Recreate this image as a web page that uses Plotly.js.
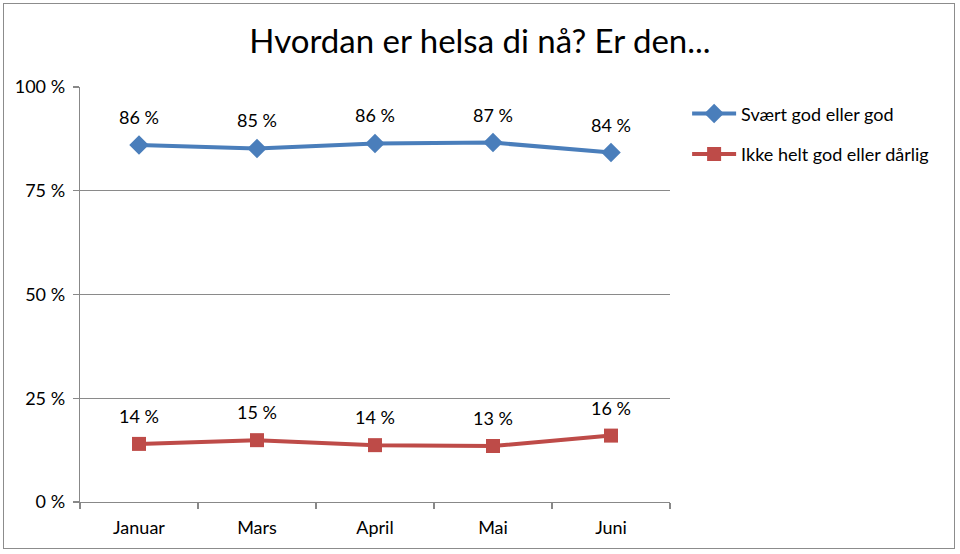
<!DOCTYPE html>
<html>
<head>
<meta charset="utf-8">
<script src="https://cdn.plot.ly/plotly-3.0.1.min.js"></script>
<style>
html,body{margin:0;padding:0;background:#fff;}
#wrap{position:absolute;left:0;top:0;width:960px;height:554px;}
#frame{position:absolute;left:3px;top:3px;width:952px;height:546px;border:1.5px solid #8c8c8c;box-sizing:border-box;pointer-events:none;}
#chart{width:960px;height:554px;}
</style>
</head>
<body>
<div id="wrap"><div id="chart"></div><div id="frame"></div></div>
<script>
const categories = ["Januar", "Mars", "April", "Mai", "Juni"];
const seriesNames = ["Svært god eller god", "Ikke helt god eller dårlig"];
const godValues = [86.0, 85.2, 86.4, 86.6, 84.2];
const darligValues = [14.0, 14.9, 13.7, 13.5, 16.0];
const godLabels = ["86 %", "85 %", "86 %", "87 %", "84 %"];
const darligLabels = ["14 %", "15 %", "14 %", "13 %", "16 %"];
const yTickVals = [0, 25, 50, 75, 100];
const yTickText = ["0 %", "25 %", "50 %", "75 %", "100 %"];

const FONT = "Lato, 'Open Sans', sans-serif";
const blue = "#4a7ebb", red = "#be4b48";

const traces = [
  {x: categories, y: godValues, name: seriesNames[0], type: "scatter", mode: "lines+markers",
   line: {color: blue, width: 4}, marker: {symbol: "diamond", size: 15, color: blue},
   legendgroup: "a"},
  {x: categories, y: darligValues, name: seriesNames[1], type: "scatter", mode: "lines+markers",
   line: {color: red, width: 4}, marker: {symbol: "square", size: 14, color: red},
   legendgroup: "b"}
];

const annotations = [];
categories.forEach((c, i) => {
  annotations.push({x: c, y: godValues[i], text: godLabels[i], showarrow: false, yshift: 28,
    font: {family: FONT, size: 18, color: "#000"}});
  annotations.push({x: c, y: darligValues[i], text: darligLabels[i], showarrow: false, yshift: 28,
    font: {family: FONT, size: 18, color: "#000"}});
});

const layout = {
  width: 960, height: 554,
  margin: {l: 80, r: 290, t: 87, b: 52},
  paper_bgcolor: "#fff", plot_bgcolor: "#fff",
  font: {family: FONT, size: 18, color: "#000"},
  title: {text: "Hvordan er helsa di nå? Er den...", xref: "container", x: 0.5, xanchor: "center",
    yref: "container", y: 0.925, yanchor: "middle", font: {family: FONT, size: 33, color: "#000"}},
  xaxis: {type: "category", range: [-0.5, 4.5], showgrid: false, showline: true, linecolor: "#888", linewidth: 1.3,
    ticks: "outside", tickson: "boundaries", ticklen: 6, tickcolor: "#888", tickwidth: 1.3,
    tickfont: {family: FONT, size: 18}, ticklabelstandoff: 9, fixedrange: true},
  yaxis: {range: [0, 100], tickvals: yTickVals, ticktext: yTickText, showgrid: true, gridcolor: "#8a8a8a", gridwidth: 1.2,
    showline: true, linecolor: "#888", linewidth: 1.3, ticks: "outside", ticklen: 6, tickcolor: "#888", tickwidth: 1.3,
    zeroline: false, tickfont: {family: FONT, size: 18}, ticklabelstandoff: 4},
  showlegend: true,
  legend: {x: 1.029, xanchor: "left", y: 0.98, yanchor: "top", tracegroupgap: 14,
    font: {family: FONT, size: 18}, bgcolor: "rgba(0,0,0,0)", itemwidth: 44},
  annotations: annotations
};

Plotly.newPlot("chart", traces, layout, {displayModeBar: false, staticPlot: true});
</script>
</body>
</html>
